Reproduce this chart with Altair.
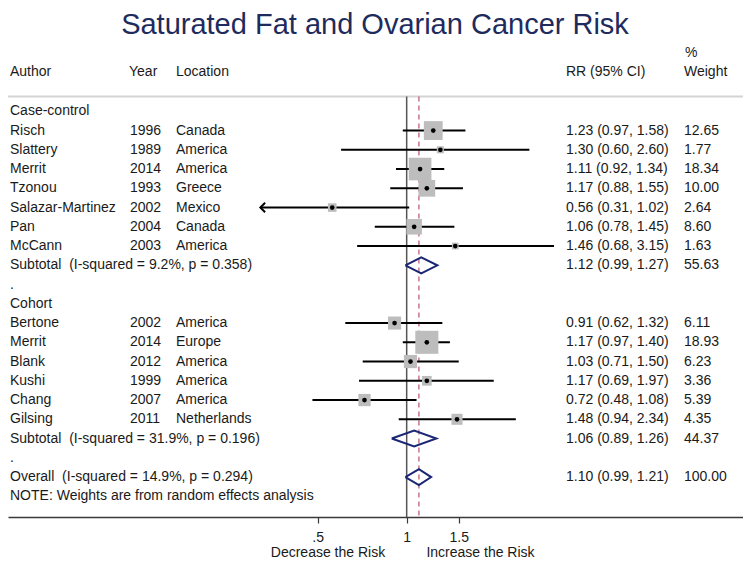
import altair as alt
import pandas as pd

# ---------------- data ----------------
title_text = "Saturated Fat and Ovarian Cancer Risk"
group_names = ["Case-control", "Cohort"]
group_sizes = [7, 6]
authors = ["Risch", "Slattery", "Merrit", "Tzonou", "Salazar-Martinez", "Pan", "McCann",
           "Bertone", "Merrit", "Blank", "Kushi", "Chang", "Gilsing"]
years = [1996, 1989, 2014, 1993, 2002, 2004, 2003,
         2002, 2014, 2012, 1999, 2007, 2011]
locations = ["Canada", "America", "America", "Greece", "Mexico", "Canada", "America",
             "America", "Europe", "America", "America", "America", "Netherlands"]
rr = [1.23, 1.30, 1.11, 1.17, 0.56, 1.06, 1.46,
      0.91, 1.17, 1.03, 1.17, 0.72, 1.48]
lo = [0.97, 0.60, 0.92, 0.88, 0.31, 0.78, 0.68,
      0.62, 0.97, 0.71, 0.69, 0.48, 0.94]
hi = [1.58, 2.60, 1.34, 1.55, 1.02, 1.45, 3.15,
      1.32, 1.40, 1.50, 1.97, 1.08, 2.34]
weights = [12.65, 1.77, 18.34, 10.00, 2.64, 8.60, 1.63,
           6.11, 18.93, 6.23, 3.36, 5.39, 4.35]

sub_labels = ["Subtotal\u00a0 (I-squared = 9.2%, p = 0.358)",
              "Subtotal\u00a0 (I-squared = 31.9%, p = 0.196)"]
sub_rr = [1.12, 1.06]
sub_lo = [0.99, 0.89]
sub_hi = [1.27, 1.26]
sub_w = [55.63, 44.37]

overall_label = "Overall\u00a0 (I-squared = 14.9%, p = 0.294)"
overall_rr, overall_lo, overall_hi, overall_w = 1.10, 0.99, 1.21, 100.00
note_text = "NOTE: Weights are from random effects analysis"

header_cols = ["Author", "Year", "Location", "RR (95% CI)", "Weight"]
header_pct = "%"
tick_values = [0.5, 1, 1.5]
tick_labels = [".5", "1", "1.5"]
left_label = "Decrease the Risk"
right_label = "Increase the Risk"

# ---------------- layout constants ----------------
W, H = 735, 509
CLIP_LO = 0.32           # lower display limit of the forest area (arrow beyond)
FONT = "Liberation Sans, Arial, sans-serif"
FS = 14
TXT = "#1a1a1a"
NAVY = "#1b2674"
X_COL = {"label": 2, "year": 122, "loc": 168, "ci": 558, "w": 676}

# ---------------- build tables ----------------
rows, studies, pooled = [], [], []
r = 0
i = 0
for g, (gname, n) in enumerate(zip(group_names, group_sizes)):
    rows.append(dict(r=r, label=gname, year="", loc="", ci="", w=""))
    r += 1
    for _ in range(n):
        rows.append(dict(r=r, label=authors[i], year=str(years[i]), loc=locations[i],
                         ci=f"{rr[i]:.2f} ({lo[i]:.2f}, {hi[i]:.2f})", w=f"{weights[i]:.2f}"))
        studies.append(dict(r=r, rr=rr[i], lo=lo[i], hi=hi[i], wt=weights[i],
                            lo_draw=max(lo[i], CLIP_LO), clipped=lo[i] < CLIP_LO))
        i += 1
        r += 1
    rows.append(dict(r=r, label=sub_labels[g], year="", loc="",
                     ci=f"{sub_rr[g]:.2f} ({sub_lo[g]:.2f}, {sub_hi[g]:.2f})", w=f"{sub_w[g]:.2f}"))
    pooled.append(dict(id=f"sub{g}", r=r, rr=sub_rr[g], lo=sub_lo[g], hi=sub_hi[g]))
    r += 1
    rows.append(dict(r=r, label=".", year="", loc="", ci="", w=""))
    r += 1
rows.append(dict(r=r, label=overall_label, year="", loc="",
                 ci=f"{overall_rr:.2f} ({overall_lo:.2f}, {overall_hi:.2f})", w=f"{overall_w:.2f}"))
pooled.append(dict(id="overall", r=r, rr=overall_rr, lo=overall_lo, hi=overall_hi))
r += 1
rows.append(dict(r=r, label=note_text, year="", loc="", ci="", w=""))

rows_df = pd.DataFrame(rows)
studies_df = pd.DataFrame(studies)

HALF = 0.415
diam = []
for p in pooled:
    pts = [(p["lo"], p["r"]), (p["rr"], p["r"] - HALF), (p["hi"], p["r"]),
           (p["rr"], p["r"] + HALF), (p["lo"], p["r"])]
    for k, (xv, yv) in enumerate(pts):
        diam.append(dict(id=p["id"], k=k, x=xv, y=yv))
diam_df = pd.DataFrame(diam)

# ---------------- scales ----------------
xscale = alt.Scale(type="log", domain=[0.04483, 13.726], nice=False)
yscale = alt.Scale(domain=[-5.366, 21.075], reverse=True, nice=False, zero=False)

expr = "''"
for v, l in reversed(list(zip(tick_values, tick_labels))):
    expr = f"datum.value == {v} ? '{l}' : ({expr})"

X_AXIS = alt.Axis(values=tick_values, labelExpr=expr, title=None, grid=False,
                  domainColor="#3a3a3a", domainWidth=1.5, tickColor="#3a3a3a",
                  tickWidth=1.2, tickSize=6, labelPadding=7, labelFontSize=FS,
                  labelFont=FONT, labelColor=TXT, labelFlush=False, labelOverlap=False)


def X(field):
    return alt.X(field, scale=xscale, axis=X_AXIS)


def Y(field):
    return alt.Y(field, scale=yscale, axis=None)


one = pd.DataFrame({"v": [1.0]})
ov = pd.DataFrame({"v": [overall_rr]})

header_line = alt.Chart(one).mark_rule(color="#d4d4d4", strokeWidth=2).encode(
    x=alt.value(0), x2=alt.value(W), y=alt.value(88.5))
null_line = alt.Chart(one).mark_rule(color="#555555", strokeWidth=1.5).encode(
    x=X("v:Q"), y=alt.value(88.5), y2=alt.value(H))
ov_line = alt.Chart(ov).mark_rule(color="#c0607a", strokeWidth=1.3, strokeDash=[5, 4]).encode(
    x=X("v:Q"), y=alt.value(88.5), y2=alt.value(H))

squares = alt.Chart(studies_df).mark_square(color="#bdbdbd", opacity=1).encode(
    x=X("rr:Q"), y=Y("r:Q"),
    size=alt.Size("wt:Q", scale=alt.Scale(domain=[0, 20], range=[0, 560]), legend=None))
ci = alt.Chart(studies_df).mark_rule(color="black", strokeWidth=2).encode(
    x=X("lo_draw:Q"), x2="hi:Q", y=Y("r:Q"))
arrows = alt.Chart(studies_df).transform_filter("datum.clipped").mark_point(
    shape="M 1 -1 L 0 0 L 1 1", filled=False, color="black", strokeWidth=2, size=90, opacity=1
).encode(x=X("lo_draw:Q"), y=Y("r:Q"))
dots = alt.Chart(studies_df).mark_circle(color="black", size=22, opacity=1).encode(
    x=X("rr:Q"), y=Y("r:Q"))
diamonds = alt.Chart(diam_df).mark_line(color=NAVY, strokeWidth=2, strokeJoin="miter").encode(
    x=X("x:Q"), y=Y("y:Q"), detail="id:N", order="k:Q")


def col(field, xpos):
    return alt.Chart(rows_df).mark_text(align="left", baseline="middle", font=FONT,
                                        fontSize=FS, color=TXT).encode(
        x=alt.value(xpos), y=Y("r:Q"), text=f"{field}:N")


cols = [col("label", X_COL["label"]), col("year", X_COL["year"]), col("loc", X_COL["loc"]),
        col("ci", X_COL["ci"]), col("w", X_COL["w"])]

hdr_df = pd.DataFrame({"t": header_cols,
                       "xp": [X_COL["label"], X_COL["year"] - 1, X_COL["loc"], X_COL["ci"], X_COL["w"]]})
headers = alt.Chart(hdr_df).mark_text(align="left", baseline="middle", font=FONT,
                                      fontSize=FS, color=TXT).encode(
    x=alt.X("xp:Q", scale=None), y=alt.value(64), text="t:N")
pct = alt.Chart(pd.DataFrame({"t": [header_pct]})).mark_text(
    align="left", baseline="middle", font=FONT, fontSize=FS, color=TXT).encode(
    x=alt.value(X_COL["w"] + 1), y=alt.value(45), text="t:N")

title = alt.Chart(pd.DataFrame({"t": [title_text]})).mark_text(
    align="center", baseline="alphabetic", font=FONT, fontSize=29, color="#1e2b5c").encode(
    x=alt.value(367), y=alt.value(26), text="t:N")

fav = alt.Chart(pd.DataFrame({"t": [left_label, right_label], "xp": [320, 472.5]})).mark_text(
    align="center", baseline="middle", font=FONT, fontSize=FS, color=TXT).encode(
    x=alt.X("xp:Q", scale=None), y=alt.value(545), text="t:N")

chart = alt.layer(
    header_line, null_line, ov_line, ci, squares, dots, arrows, diamonds,
    *cols, headers, pct, title, fav
).properties(
    width=W, height=H,
    autosize=alt.AutoSizeParams(type="none"),
    padding={"left": 0, "top": 0, "right": 0, "bottom": 45},
    background="white",
).configure_view(stroke=None)

chart.save("out.html", embed_options={"renderer": "svg", "actions": False})
